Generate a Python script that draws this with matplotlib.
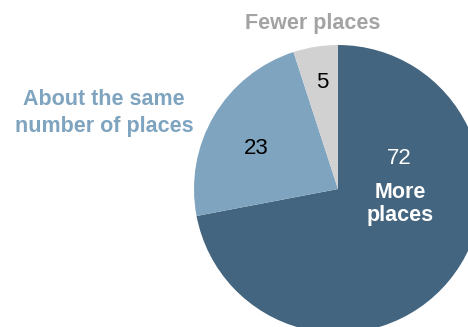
import matplotlib
matplotlib.use('Agg')
import matplotlib.pyplot as plt

# Share of respondents by answer
categories = ['More places', 'About the same\nnumber of places', 'Fewer places']
shares = [72, 23, 5]
colors = ['#44657f', '#7fa4c0', '#d1d1d1']

plt.rcParams['font.family'] = ['Liberation Sans', 'DejaVu Sans']

fig = plt.figure(figsize=(4.68, 3.27), dpi=100)
ax = fig.add_axes([0, 0, 1, 1])

ax.pie(shares, colors=colors, startangle=90, counterclock=False,
       radius=1.0, center=(0, 0), wedgeprops=dict(linewidth=0))

# pixel -> data mapping: centre at (338, 189) px, radius 144 px
PX = 144.0
def px(x, y):
    return (x - 338) / PX, (189 - y) / PX

ax.set_xlim(-338 / PX, (468 - 338) / PX)
ax.set_ylim((189 - 327) / PX, 189 / PX)
ax.set_aspect('auto')
ax.axis('off')

# values inside slices
ax.text(*px(399, 159), f'{shares[0]}', ha='center', va='center',
        fontsize=16, color='white')
ax.text(*px(256, 148), f'{shares[1]}', ha='center', va='center',
        fontsize=16, color='black')
ax.text(*px(322, 82), f'{shares[2]}', ha='center', va='center',
        fontsize=16, color='black')

# category labels
ax.text(*px(400, 204), categories[0].replace(' ', '\n'), ha='center',
        va='center', fontsize=15.5, fontweight='bold', color='white',
        linespacing=1.15)
ax.text(*px(104, 113), categories[1], ha='center', va='center',
        fontsize=15.5, fontweight='bold', color='#7fa4c0', linespacing=1.35)
ax.text(*px(313, 23), categories[2], ha='center', va='center',
        fontsize=15.5, fontweight='bold', color='#a3a3a3')

fig.savefig('out.png', dpi=100, facecolor='white')
